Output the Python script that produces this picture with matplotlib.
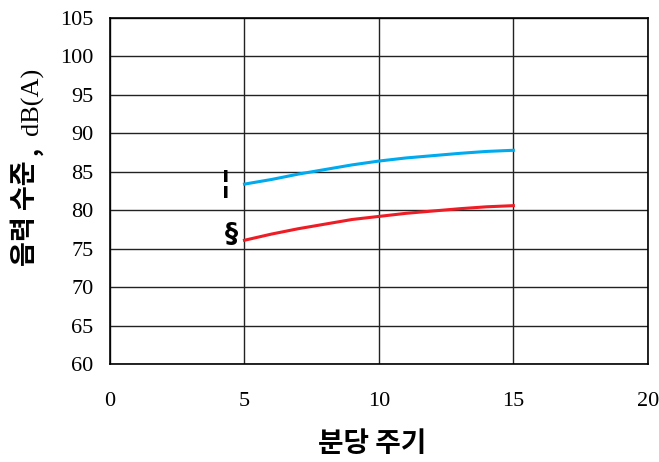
import matplotlib
matplotlib.use("Agg")
import matplotlib.pyplot as plt

# values
cycles = [5, 6, 7, 8, 9, 10, 11, 12, 13, 14, 15]
level_a = [83.4, 84.0, 84.7, 85.3, 85.9, 86.4, 86.8, 87.1, 87.4, 87.65, 87.8]
level_b = [76.1, 76.9, 77.6, 78.2, 78.8, 79.2, 79.6, 79.9, 80.2, 80.45, 80.6]
x_ticks = [0, 5, 10, 15, 20]
y_ticks = [60, 65, 70, 75, 80, 85, 90, 95, 100, 105]

fig = plt.figure(figsize=(6.59, 4.62), dpi=100)
ax = fig.add_axes([0.167, 0.212, 0.816, 0.749])

ax.plot(cycles, level_a, color="#00aaee", lw=2.2)
ax.plot(cycles, level_b, color="#ee1c25", lw=2.2)

ax.text(4.3, 83.4, "¦", fontsize=23, fontweight="bold", ha="center", va="center",
        family="DejaVu Sans")
ax.text(4.53, 76.8, "§", fontsize=19, fontweight="bold", ha="center", va="center",
        family="DejaVu Sans")

ax.set_xlim(0, 20)
ax.set_ylim(60, 105)
ax.set_xticks(x_ticks)
ax.set_yticks(y_ticks)
ax.grid(True, color="#222222", lw=1)
ax.tick_params(length=0, labelsize=16, pad=12)
ax.tick_params(axis="x", pad=20)
for lab in ax.get_xticklabels() + ax.get_yticklabels():
    lab.set_family("Liberation Serif")
for s in ax.spines.values():
    s.set_linewidth(1.2)

# y label: bold Korean part, comma and serif unit
kr = ["Noto Sans CJK KR", "DejaVu Sans"]
fig.text(25 / 659, 1 - 266 / 462, "음력 수준", rotation=90, fontsize=19.5,
         fontweight="bold", family=kr, ha="center", va="bottom")
fig.text(31 / 659, 1 - 151 / 462, ",", rotation=90, fontsize=18,
         fontweight="bold", family=kr, ha="center", va="center")
fig.text(32 / 659, 1 - 68 / 462, "dB(A)", rotation=90, fontsize=19,
         family="Liberation Serif", ha="center", va="top")
fig.text(372 / 659, 1 - 444 / 462, "분당 주기", fontsize=20, fontweight="bold",
         family=kr, ha="center", va="center")

fig.savefig("out.png", dpi=100)
